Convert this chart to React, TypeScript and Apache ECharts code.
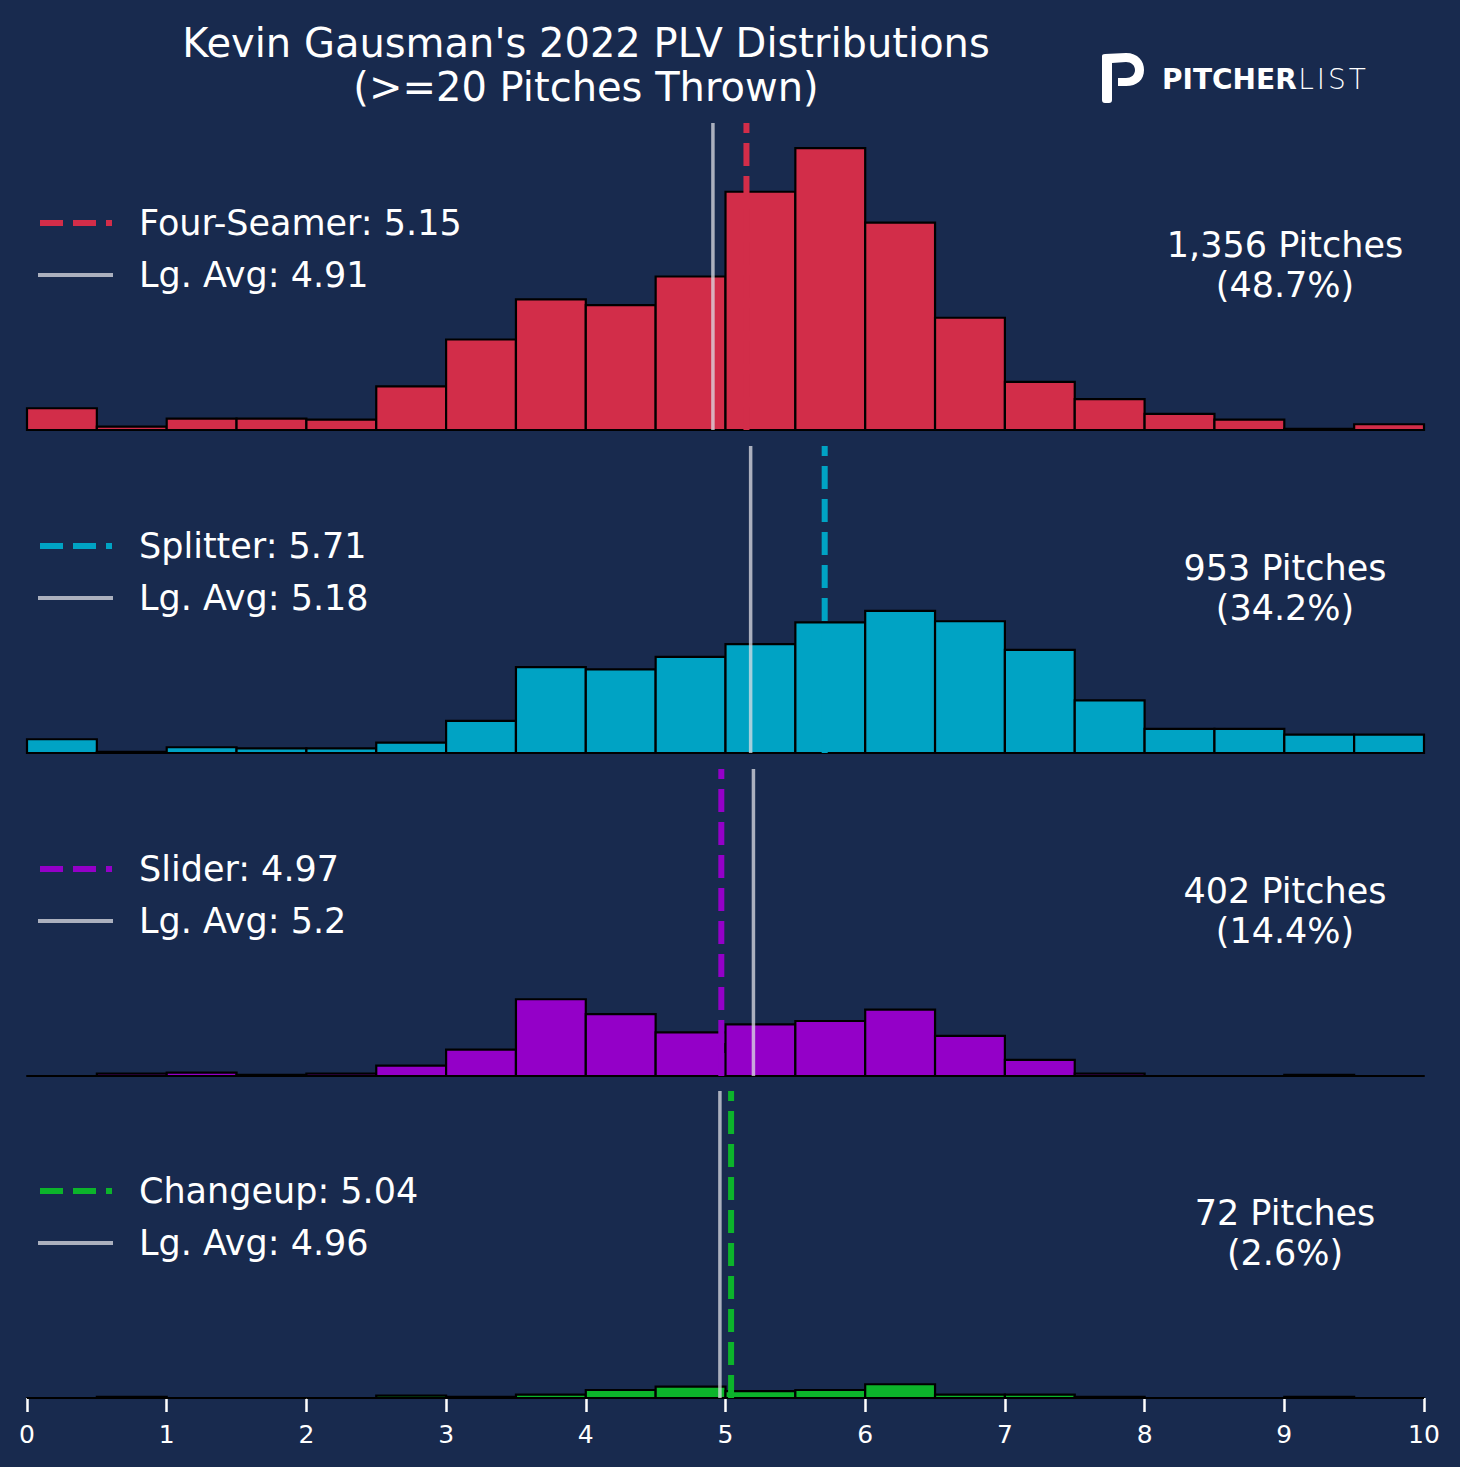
import { useEffect, useRef } from "react";
import * as echarts from "echarts";

// bins of width 0.5 across the PLV scale
const BIN_STARTS = [0, 0.5, 1, 1.5, 2, 2.5, 3, 3.5, 4, 4.5, 5, 5.5, 6, 6.5, 7, 7.5, 8, 8.5, 9, 9.5];
const BIN_WIDTH = 0.5;
const X_TICKS_MAX = 10;
const Y_MAX = 268;

const PITCH_NAMES = ["Four-Seamer", "Splitter", "Slider", "Changeup"];
const PITCH_COLORS = ["#d22d49", "#00a3c4", "#9400c8", "#0cb42b"];
const PITCH_MEANS = ["5.15", "5.71", "4.97", "5.04"];
const LEAGUE_AVGS = ["4.91", "5.18", "5.2", "4.96"];
const PITCH_COUNTS = ["1,356", "953", "402", "72"];
const PITCH_SHARES = ["48.7%", "34.2%", "14.4%", "2.6%"];

const FOUR_SEAMER = [19, 3, 10, 10, 9, 38, 79, 114, 109, 134, 208, 246, 181, 98, 42, 27, 14, 9, 1, 5];
const SPLITTER = [12, 1, 5, 4, 4, 9, 28, 75, 73, 84, 95, 114, 124, 115, 90, 46, 21, 21, 16, 16];
const SLIDER = [0, 2, 3, 1, 2, 9, 23, 67, 54, 38, 45, 48, 58, 35, 14, 2, 0, 0, 1, 0];
const CHANGEUP = [0, 1, 0, 0, 0, 2, 1, 3, 7, 10, 6, 7, 12, 3, 3, 1, 0, 0, 1, 0];

const HISTOGRAMS = [FOUR_SEAMER, SPLITTER, SLIDER, CHANGEUP];

const BG = "#182a4e";
const LG_COLOR = "rgba(220,222,228,0.75)";
const FONT = "DejaVu Sans";

const GRID_TOPS = [123, 446, 769, 1091];
const GRID_HEIGHT = 307;
const GRID_LEFT = 27;
const GRID_RIGHT = 36;

const LOGO_PATH =
  "M0,2 Q0,0 3,0 L24,-1 C36,-1 42,7 42,16 C42,26 35,32 24,32 L16,32 L16,24 L24,24 C29,24 33,21 33,16 C33,11 29,8 24,8 L10,9 L10,46 Q10,49 7,49 L3,49 Q0,49 0,46 Z";

echarts.graphic.registerShape("plLogo", echarts.graphic.extendPath(LOGO_PATH, {}));

function buildOption() {
  const grid = GRID_TOPS.map((top) => ({
    left: GRID_LEFT,
    right: GRID_RIGHT,
    top,
    height: GRID_HEIGHT,
  }));

  const xAxis = GRID_TOPS.map((_, i) => {
    const last = i === GRID_TOPS.length - 1;
    return {
      type: "value",
      gridIndex: i,
      min: 0,
      max: X_TICKS_MAX,
      interval: 1,
      splitLine: { show: false },
      axisLine: { show: true, onZero: false, lineStyle: { color: "#000", width: 2 } },
      axisTick: { show: last, length: 14, lineStyle: { color: "#fff", width: 2.5 } },
      axisLabel: {
        show: last,
        color: "#fff",
        fontSize: 25,
        fontFamily: FONT,
        margin: 24,
      },
    };
  });

  const yAxis = GRID_TOPS.map((_, i) => ({
    type: "value",
    gridIndex: i,
    min: 0,
    max: Y_MAX,
    show: false,
    splitLine: { show: false },
  }));

  const series: any[] = [];
  HISTOGRAMS.forEach((counts, i) => {
    const color = PITCH_COLORS[i];
    series.push({
      type: "custom",
      xAxisIndex: i,
      yAxisIndex: i,
      silent: true,
      z: 2,
      encode: { x: [0, 1], y: 2 },
      data: counts.map((c, k) => [BIN_STARTS[k], BIN_STARTS[k] + BIN_WIDTH, c]),
      renderItem: (_params: any, api: any) => {
        const p0 = api.coord([api.value(0), api.value(2)]);
        const p1 = api.coord([api.value(1), 0]);
        return {
          type: "rect",
          shape: { x: p0[0], y: p0[1], width: p1[0] - p0[0], height: p1[1] - p0[1] },
          style: { fill: color, stroke: "#000", lineWidth: 2.2 },
        };
      },
    });
    const avg = parseFloat(LEAGUE_AVGS[i]);
    const mean = parseFloat(PITCH_MEANS[i]);
    series.push({
      type: "line",
      xAxisIndex: i,
      yAxisIndex: i,
      silent: true,
      z: 4,
      symbol: "none",
      data: [
        [avg, 0],
        [avg, Y_MAX],
      ],
      lineStyle: { color: LG_COLOR, width: 3.5 },
    });
    series.push({
      type: "line",
      xAxisIndex: i,
      yAxisIndex: i,
      silent: true,
      z: 5,
      symbol: "none",
      data: [
        [mean, 0],
        [mean, Y_MAX],
      ],
      lineStyle: { color, width: 6, type: [23, 10] },
    });
  });

  const graphic: any[] = [
    {
      type: "text",
      x: 586,
      y: 65,
      style: {
        text: "Kevin Gausman's 2022 PLV Distributions\n(>=20 Pitches Thrown)",
        fill: "#fff",
        fontSize: 40,
        fontFamily: FONT,
        lineHeight: 44,
        align: "center",
        verticalAlign: "middle",
      },
    },
    {
      type: "plLogo",
      x: 1102,
      y: 54,
      style: { fill: "#fff" },
    },
    {
      type: "text",
      x: 1162,
      y: 79,
      style: {
        text: "{b|PITCHER}{l|L}{l|I}{l|S}{l|T}",
        verticalAlign: "middle",
        rich: {
          b: { fontFamily: FONT, fontWeight: "bold", fontSize: 28, fill: "#fff" },
          l: { fontFamily: FONT, fontWeight: 200, fontSize: 28, fill: "#fff", padding: [0, 1.5, 0, 1.5] },
        },
      },
    },
  ];

  GRID_TOPS.forEach((top, i) => {
    graphic.push(
      {
        type: "line",
        shape: { x1: 40, y1: top + 100, x2: 112, y2: top + 100 },
        style: { stroke: PITCH_COLORS[i], lineWidth: 6, lineDash: [23, 10] },
      },
      {
        type: "line",
        shape: { x1: 38, y1: top + 152, x2: 113, y2: top + 152 },
        style: { stroke: LG_COLOR, lineWidth: 4 },
      },
      {
        type: "text",
        x: 139,
        y: top + 100,
        style: {
          text: `${PITCH_NAMES[i]}: ${PITCH_MEANS[i]}`,
          fill: "#fff",
          fontSize: 35,
          fontFamily: FONT,
          verticalAlign: "middle",
        },
      },
      {
        type: "text",
        x: 139,
        y: top + 152,
        style: {
          text: `Lg. Avg: ${LEAGUE_AVGS[i]}`,
          fill: "#fff",
          fontSize: 35,
          fontFamily: FONT,
          verticalAlign: "middle",
        },
      },
      {
        type: "text",
        x: 1285,
        y: top + 142,
        style: {
          text: `${PITCH_COUNTS[i]} Pitches\n(${PITCH_SHARES[i]})`,
          fill: "#fff",
          fontSize: 35,
          fontFamily: FONT,
          lineHeight: 40,
          align: "center",
          verticalAlign: "middle",
        },
      }
    );
  });

  return {
    animation: false,
    backgroundColor: BG,
    grid,
    xAxis,
    yAxis,
    series,
    graphic,
  };
}

export default function App() {
  const chartRef = useRef<HTMLDivElement>(null);

  useEffect(() => {
    const el = chartRef.current;
    if (!el) return;
    const chart = echarts.init(el, null, { renderer: "svg" });
    chart.setOption(buildOption());
    return () => chart.dispose();
  }, []);

  return (
    <div
      ref={chartRef}
      style={{ position: "fixed", left: 0, top: 0, width: 1460, height: 1467, background: BG }}
    />
  );
}
